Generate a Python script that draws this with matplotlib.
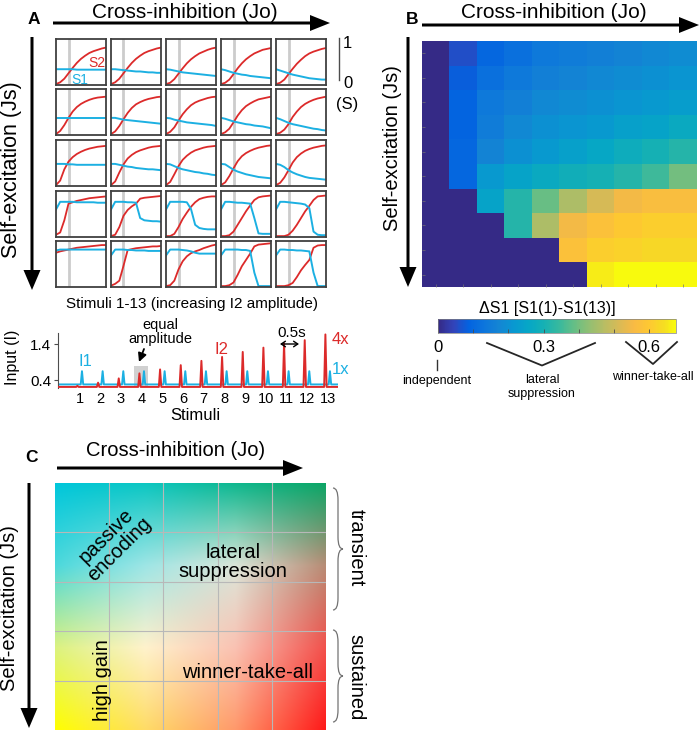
import numpy as np
import matplotlib
matplotlib.use('Agg')
import matplotlib.pyplot as plt
from matplotlib.colors import LinearSegmentedColormap
from matplotlib.path import Path
from matplotlib.patches import PathPatch, Rectangle

plt.rcParams['font.family'] = ['Liberation Sans', 'DejaVu Sans']

# ---------------- DATA ----------------
stimuli = list(range(1, 14))
equal_stim = 4

# Panel A mini plots: S1 (blue) and S2 (red) over stimuli 1..13, rows = Js, cols = Jo
s1_row1 = [[0.33,0.33,0.33,0.33,0.33,0.32,0.32,0.32,0.32,0.32,0.32,0.32,0.32],
           [0.33,0.33,0.32,0.31,0.30,0.29,0.28,0.28,0.27,0.26,0.26,0.25,0.25],
           [0.33,0.32,0.30,0.28,0.26,0.25,0.24,0.23,0.22,0.21,0.20,0.19,0.18],
           [0.33,0.31,0.28,0.25,0.23,0.21,0.20,0.18,0.17,0.16,0.15,0.14,0.13],
           [0.33,0.30,0.27,0.24,0.21,0.19,0.17,0.15,0.13,0.12,0.11,0.10,0.10]]
s2_row1 = [[0.00,0.04,0.12,0.24,0.36,0.47,0.56,0.63,0.69,0.73,0.76,0.79,0.81],
           [0.00,0.04,0.12,0.24,0.36,0.47,0.56,0.63,0.69,0.73,0.76,0.79,0.81],
           [0.00,0.03,0.11,0.23,0.35,0.46,0.55,0.62,0.68,0.72,0.76,0.79,0.81],
           [0.00,0.03,0.10,0.22,0.35,0.46,0.55,0.62,0.68,0.72,0.76,0.78,0.80],
           [0.00,0.03,0.10,0.22,0.34,0.45,0.54,0.62,0.68,0.72,0.75,0.78,0.80]]
s1_row2 = [[0.36,0.36,0.36,0.36,0.36,0.36,0.36,0.36,0.36,0.36,0.36,0.36,0.36],
           [0.36,0.36,0.34,0.32,0.31,0.30,0.29,0.28,0.27,0.26,0.25,0.24,0.23],
           [0.36,0.35,0.32,0.30,0.28,0.26,0.25,0.24,0.23,0.22,0.21,0.20,0.18],
           [0.36,0.34,0.31,0.28,0.26,0.24,0.22,0.21,0.19,0.18,0.17,0.15,0.13],
           [0.36,0.33,0.29,0.25,0.22,0.20,0.18,0.16,0.14,0.12,0.11,0.09,0.08]]
s2_row2 = [[0.00,0.07,0.20,0.36,0.50,0.60,0.67,0.72,0.76,0.79,0.81,0.82,0.83],
           [0.00,0.06,0.18,0.33,0.47,0.58,0.66,0.71,0.75,0.78,0.80,0.82,0.83],
           [0.00,0.05,0.15,0.30,0.44,0.55,0.64,0.70,0.74,0.77,0.80,0.82,0.83],
           [0.00,0.04,0.12,0.26,0.41,0.53,0.62,0.68,0.73,0.77,0.79,0.81,0.83],
           [0.00,0.03,0.10,0.22,0.38,0.50,0.60,0.67,0.72,0.76,0.79,0.81,0.83]]
s1_row3 = [[0.47,0.47,0.47,0.46,0.46,0.45,0.45,0.45,0.45,0.45,0.45,0.45,0.45],
           [0.47,0.47,0.45,0.43,0.41,0.40,0.38,0.37,0.36,0.35,0.35,0.34,0.33],
           [0.47,0.46,0.42,0.38,0.35,0.33,0.31,0.29,0.28,0.26,0.25,0.23,0.22],
           [0.47,0.46,0.40,0.34,0.30,0.27,0.24,0.22,0.20,0.18,0.17,0.16,0.15],
           [0.47,0.45,0.40,0.33,0.28,0.24,0.21,0.18,0.16,0.15,0.14,0.13,0.12]]
s2_row3 = [[0.00,0.10,0.35,0.52,0.62,0.69,0.74,0.78,0.81,0.83,0.85,0.86,0.87],
           [0.00,0.08,0.28,0.46,0.59,0.67,0.73,0.77,0.80,0.83,0.85,0.86,0.87],
           [0.00,0.07,0.24,0.42,0.56,0.65,0.72,0.77,0.80,0.83,0.85,0.86,0.87],
           [0.00,0.06,0.20,0.37,0.53,0.64,0.71,0.76,0.80,0.83,0.85,0.87,0.88],
           [0.00,0.05,0.17,0.33,0.50,0.62,0.70,0.76,0.80,0.83,0.85,0.87,0.88]]
s1_row4 = [[0.59,0.76,0.76,0.76,0.76,0.75,0.75,0.75,0.75,0.75,0.74,0.74,0.74],
           [0.59,0.76,0.76,0.76,0.75,0.75,0.74,0.40,0.35,0.34,0.33,0.33,0.32],
           [0.59,0.76,0.76,0.76,0.76,0.75,0.60,0.25,0.18,0.16,0.15,0.15,0.15],
           [0.59,0.76,0.76,0.75,0.74,0.74,0.73,0.72,0.40,0.06,0.05,0.05,0.05],
           [0.59,0.76,0.76,0.75,0.74,0.73,0.72,0.70,0.62,0.10,0.03,0.02,0.02]]
s2_row4 = [[0.03,0.08,0.35,0.72,0.75,0.78,0.80,0.82,0.84,0.85,0.86,0.87,0.88],
           [0.00,0.03,0.20,0.45,0.58,0.66,0.72,0.83,0.85,0.86,0.87,0.88,0.89],
           [0.00,0.00,0.05,0.20,0.38,0.52,0.65,0.75,0.82,0.85,0.87,0.88,0.88],
           [0.00,0.00,0.02,0.10,0.25,0.40,0.55,0.68,0.80,0.86,0.88,0.89,0.90],
           [0.00,0.00,0.00,0.03,0.12,0.25,0.40,0.55,0.67,0.80,0.88,0.89,0.90]]
s1_row5 = [[0.79,0.81,0.81,0.81,0.81,0.81,0.81,0.81,0.81,0.81,0.81,0.81,0.81],
           [0.68,0.81,0.81,0.81,0.80,0.80,0.79,0.79,0.79,0.78,0.78,0.78,0.78],
           [0.68,0.81,0.81,0.81,0.80,0.79,0.77,0.74,0.72,0.72,0.72,0.72,0.72],
           [0.68,0.81,0.81,0.81,0.81,0.80,0.80,0.78,0.30,0.00,0.00,0.00,0.00],
           [0.68,0.81,0.81,0.80,0.80,0.79,0.79,0.78,0.77,0.30,0.00,0.00,0.00]]
s2_row5 = [[0.74,0.77,0.79,0.81,0.83,0.85,0.86,0.87,0.88,0.89,0.90,0.91,0.91],
           [0.01,0.05,0.12,0.45,0.80,0.82,0.84,0.85,0.86,0.87,0.88,0.88,0.89],
           [0.00,0.02,0.12,0.37,0.55,0.66,0.73,0.77,0.80,0.84,0.87,0.90,0.92],
           [0.00,0.00,0.02,0.08,0.25,0.44,0.58,0.72,0.88,0.92,0.93,0.94,0.95],
           [0.00,0.00,0.00,0.02,0.07,0.20,0.35,0.47,0.58,0.85,0.90,0.91,0.91]]
S1 = [s1_row1, s1_row2, s1_row3, s1_row4, s1_row5]
S2 = [s2_row1, s2_row2, s2_row3, s2_row4, s2_row5]

# Panel A input trace
i1_amp = [0.65] * 13
i2_amp = [0.24, 0.33, 0.45, 0.59, 0.70, 0.82, 0.94, 1.05, 1.19, 1.31, 1.43, 1.52, 1.68]
i1_base = 0.28
i2_base = 0.21
input_ticks = [0.4, 1.4]

# Panel B heat map: dS1 = S1(1) - S1(13)
dS1 = [[0.00,0.06,0.10,0.12,0.14,0.15,0.16,0.17,0.18,0.19],
       [0.00,0.08,0.12,0.14,0.16,0.17,0.18,0.19,0.20,0.21],
       [0.00,0.09,0.14,0.16,0.18,0.19,0.20,0.21,0.22,0.23],
       [0.00,0.09,0.15,0.18,0.20,0.21,0.22,0.24,0.25,0.27],
       [0.00,0.10,0.17,0.20,0.22,0.24,0.26,0.28,0.30,0.32],
       [0.00,0.10,0.22,0.25,0.27,0.29,0.30,0.32,0.35,0.40],
       [0.00,0.00,0.25,0.32,0.39,0.46,0.51,0.55,0.57,0.57],
       [0.00,0.00,0.00,0.32,0.46,0.55,0.58,0.60,0.61,0.61],
       [0.00,0.00,0.00,0.00,0.00,0.58,0.61,0.62,0.63,0.63],
       [0.00,0.00,0.00,0.00,0.00,0.00,0.66,0.68,0.68,0.68]]
cb_max = 0.676
cb_ticks = [0, 0.1, 0.2, 0.3, 0.4, 0.5, 0.6]
cb_labels = ['0', '', '', '0.3', '', '', '0.6']

# ---------------- STYLE ----------------
RED = '#dc2a2a'
BLUE = '#1cb0e2'
parula_pts = [(0.2081,0.1663,0.5292),(0.1959,0.2645,0.7279),(0.0117,0.3875,0.8820),
              (0.0498,0.4586,0.8641),(0.0793,0.5200,0.8312),(0.0343,0.5966,0.8199),
              (0.0228,0.6535,0.7768),(0.0843,0.6928,0.7062),(0.2178,0.7250,0.6193),
              (0.3953,0.7459,0.5244),(0.5709,0.7485,0.4494),(0.7184,0.7411,0.3905),
              (0.8507,0.7299,0.3360),(0.9739,0.7314,0.2666),(0.9955,0.7861,0.1967),
              (0.9626,0.8705,0.1309),(0.9763,0.9831,0.0538)]
parula_pos = [0,4,8,12,16,20,24,28,32,36,40,44,48,52,56,60,63]
parula = LinearSegmentedColormap.from_list('parula', [(p/63, c) for p, c in zip(parula_pos, parula_pts)])

# Panel C background colour nodes (rows top->bottom, cols left->right)
grad_nodes = np.array([
    [(0.00,0.78,0.86), (0.05,0.78,0.76), (0.06,0.72,0.56), (0.05,0.65,0.40)],
    [(0.30,0.85,0.86), (0.62,0.90,0.90), (0.86,0.90,0.85), (0.72,0.55,0.46)],
    [(0.86,0.95,0.50), (1.00,0.95,0.80), (0.98,0.76,0.70), (0.95,0.32,0.30)],
    [(1.00,1.00,0.00), (1.00,0.86,0.40), (1.00,0.60,0.42), (1.00,0.10,0.10)]])

W, H = 700, 732
fig = plt.figure(figsize=(W/100, H/100), dpi=100)

def px_axes(x0, y0, x1, y1, **kw):
    return fig.add_axes([x0/W, 1 - y1/H, (x1-x0)/W, (y1-y0)/H], **kw)

# ---------------- PANEL A grid ----------------
col_x = [56, 111, 166, 221, 276]
row_y = [39, 89, 140, 191, 241]
for r in range(5):
    for c in range(5):
        ax = px_axes(col_x[c], row_y[r], col_x[c] + 50, row_y[r] + 46)
        ax.axvline(equal_stim, color='0.8', lw=2)
        ax.plot(stimuli, S2[r][c], color=RED, lw=1.3)
        ax.plot(stimuli, S1[r][c], color=BLUE, lw=1.4)
        ax.set_xlim(1, 13)
        ax.set_ylim(-0.02, 1.0)
        ax.set_xticks([]); ax.set_yticks([])
        for s in ax.spines.values():
            s.set_color('0.25'); s.set_linewidth(1.3)

# ---------------- PANEL A inputs ----------------
axs = px_axes(58, 333, 338, 388)
def spike_trace(pos, amps, base, off):
    xs, ys = [-0.05], [base]
    for p, a in zip(pos, amps):
        xs += [p + off - 0.06, p + off, p + off + 0.06]
        ys += [base, a, base]
    xs.append(13.5); ys.append(base)
    return xs, ys
axs.add_patch(Rectangle((equal_stim - 0.35, 0.2), 0.65, 0.6, color='0.82', lw=0, zorder=0))
x1, y1 = spike_trace(stimuli, i1_amp, i1_base, 0.11)
x2, y2 = spike_trace(stimuli, i2_amp, i2_base, -0.11)
axs.plot(x1, y1, color=BLUE, lw=1.4, zorder=2)
axs.plot(x2, y2, color=RED, lw=1.4, zorder=3)
axs.set_xlim(-0.05, 13.5)
axs.set_ylim(0.18, 1.72)
axs.set_yticks(input_ticks)
axs.set_yticklabels(['0.4', '1.4'])
axs.set_xticks(stimuli)
axs.set_xticklabels([str(s) for s in stimuli])
axs.tick_params(axis='x', length=0, pad=3, labelsize=10.5)
axs.tick_params(axis='y', length=3, width=0.8, color='0.3', labelsize=11, pad=2)
for k in ['top', 'right', 'bottom']:
    axs.spines[k].set_visible(False)
axs.spines['left'].set_color('0.3'); axs.spines['left'].set_linewidth(0.8)
axs.patch.set_alpha(0)

# ---------------- PANEL B ----------------
axh = px_axes(422, 41, 697, 287)
im = axh.imshow(np.array(dS1), cmap=parula, vmin=0, vmax=cb_max, aspect='auto', interpolation='nearest')
axh.set_xticks(np.arange(10)); axh.set_yticks(np.arange(10))
axh.set_xticklabels([]); axh.set_yticklabels([])
axh.tick_params(direction='in', length=2, width=0.5, color='0.45')
for s in axh.spines.values():
    s.set_visible(False)

cax = px_axes(438, 319, 676, 333)
cb = fig.colorbar(im, cax=cax, orientation='horizontal')
cb.set_ticks(cb_ticks)
cb.set_ticklabels(cb_labels)
cax.tick_params(direction='in', length=3, width=0.6, color='0.3', labelsize=12, pad=5)
cb.outline.set_linewidth(0.5)
cb.outline.set_edgecolor('0.5')

# ---------------- PANEL C ----------------
axc = px_axes(55, 483, 326, 730)
n = 200
node_t = np.linspace(0, 1, grad_nodes.shape[0])
t = np.linspace(0, 1, n)
rows_i = np.empty((grad_nodes.shape[0], n, 3))
for i in range(grad_nodes.shape[0]):
    for ch in range(3):
        rows_i[i, :, ch] = np.interp(t, node_t, grad_nodes[i, :, ch])
img = np.empty((n, n, 3))
for j in range(n):
    for ch in range(3):
        img[:, j, ch] = np.interp(t, node_t, rows_i[:, j, ch])
axc.imshow(np.clip(img, 0, 1), extent=(0, 5, 5, 0), aspect='auto', interpolation='bilinear')
for k in range(1, 5):
    axc.axvline(k, color='0.72', lw=0.8)
    axc.axhline(k, color='0.72', lw=0.8)
axc.set_xlim(0, 5); axc.set_ylim(5, 0)
axc.set_xticks([]); axc.set_yticks([])
for s in axc.spines.values():
    s.set_visible(False)

# ---------------- OVERLAY (text, arrows) ----------------
ov = fig.add_axes([0, 0, 1, 1], zorder=20)
ov.set_xlim(0, W); ov.set_ylim(H, 0)
ov.axis('off')
ov.patch.set_alpha(0)

def harrow(x0, x1, y):
    ov.arrow(x0, y, x1 - x0, 0, width=3, head_width=16, head_length=20,
             length_includes_head=True, color='black', lw=0)
def varrow(x, y0, y1):
    ov.arrow(x, y0, 0, y1 - y0, width=3, head_width=17, head_length=20,
             length_includes_head=True, color='black', lw=0)

# panel labels
for lab, x, y in [('A', 34, 19), ('B', 412, 19), ('C', 31, 457)]:
    ov.text(x, y, lab, fontsize=12.5, fontweight='bold', ha='center', va='center')

# titles & axis arrows
ov.text(185, 12, 'Cross-inhibition (Jo)', fontsize=15, ha='center', va='center')
harrow(53, 330, 23)
ov.text(12, 170, 'Self-excitation (Js)', fontsize=15.5, rotation=90, ha='center', va='center')
varrow(32, 37, 290)

ov.text(554, 12, 'Cross-inhibition (Jo)', fontsize=15, ha='center', va='center')
harrow(422, 699, 25)
ov.text(392, 148, 'Self-excitation (Js)', fontsize=14.5, rotation=90, ha='center', va='center')
varrow(408, 37, 287)

ov.text(176, 451, 'Cross-inhibition (Jo)', fontsize=14.5, ha='center', va='center')
harrow(57, 303, 468)
ov.text(10, 608, 'Self-excitation (Js)', fontsize=14.5, rotation=90, ha='center', va='center')
varrow(29, 483, 728)

# panel A annotations
ov.text(97, 63, 'S2', color=RED, fontsize=10, ha='center', va='center')
ov.text(80, 80, 'S1', color=BLUE, fontsize=10, ha='center', va='center')
ov.plot([339, 339], [38, 80], color='0.3', lw=1)
ov.text(343, 43, '1', fontsize=12, ha='left', va='center')
ov.text(343, 84, '0', fontsize=12, ha='left', va='center')
ov.text(336, 104, '(S)', fontsize=12, ha='left', va='center')
ov.text(192, 304, 'Stimuli 1-13 (increasing I2 amplitude)', fontsize=11, ha='center', va='center')
ov.text(13, 357, 'Input (I)', fontsize=11.5, rotation=90, ha='center', va='center')
ov.text(195, 415, 'Stimuli', fontsize=12, ha='center', va='center')
ov.text(160, 332, 'equal\namplitude', fontsize=10.5, ha='center', va='center', linespacing=1.0)
ov.annotate('', xy=(139, 362), xytext=(144, 349),
            arrowprops=dict(arrowstyle='-|>,head_length=0.5,head_width=0.25', color='black', lw=1.3, shrinkA=0, shrinkB=0))
ov.text(85, 362, 'I1', color=BLUE, fontsize=12, ha='center', va='center')
ov.text(222, 350, 'I2', color=RED, fontsize=12, ha='center', va='center')
ov.text(340, 340, '4x', color=RED, fontsize=12, ha='center', va='center')
ov.text(341, 370, '1x', color=BLUE, fontsize=12, ha='center', va='center')
ov.text(292, 333, '0.5s', fontsize=11, ha='center', va='center')
ov.annotate('', xy=(299, 344), xytext=(280, 344),
            arrowprops=dict(arrowstyle='<->,head_length=0.3,head_width=0.2', color='black', lw=1, shrinkA=0, shrinkB=0))

# panel B colorbar annotations
ov.text(547, 308, '\u0394S1 [S1(1)-S1(13)]', fontsize=11.5, ha='center', va='center')
ov.plot([437, 437], [360, 370], color='0.2', lw=1)
ov.text(437, 381, 'independent', fontsize=9, ha='center', va='center')
ov.plot([487, 542, 595], [343, 365.5, 343], color='0.15', lw=1.3)
ov.text(542, 387, 'lateral\nsuppression', fontsize=9, ha='center', va='center', linespacing=1.2)
ov.plot([626, 653, 677], [342, 364, 342], color='0.15', lw=1.3)
ov.text(653, 377, 'winner-take-all', fontsize=9, ha='center', va='center')

# panel C labels
ov.text(113, 543, 'passive\nencoding', fontsize=14.5, rotation=45, ha='center', va='center', linespacing=1.0)
ov.text(233, 562, 'lateral\nsuppression', fontsize=14.5, ha='center', va='center', linespacing=1.05)
ov.text(103, 680, 'high gain', fontsize=14.5, rotation=90, ha='center', va='center')
ov.text(248, 672, 'winner-take-all', fontsize=14.5, ha='center', va='center')
ov.text(356, 548, 'transient', fontsize=14.5, rotation=270, ha='center', va='center')
ov.text(356, 677, 'sustained', fontsize=14.5, rotation=270, ha='center', va='center')

def brace(x0, y0, y1, w=10, q=12):
    xm = x0 + w / 2.0
    ym = (y0 + y1) / 2.0
    verts = [(x0, y0), (xm, y0), (xm, y0 + q), (xm, ym - q), (xm, ym), (x0 + w, ym),
             (x0 + w, ym), (xm, ym), (xm, ym + q), (xm, y1 - q), (xm, y1), (x0, y1)]
    codes = [Path.MOVETO, Path.CURVE3, Path.CURVE3, Path.LINETO, Path.CURVE3, Path.CURVE3,
             Path.MOVETO, Path.CURVE3, Path.CURVE3, Path.LINETO, Path.CURVE3, Path.CURVE3]
    ov.add_patch(PathPatch(Path(verts, codes), fill=False, edgecolor='0.45', lw=0.9))

brace(333, 488, 610)
brace(333, 630, 722)

fig.savefig('out.png', dpi=100)
